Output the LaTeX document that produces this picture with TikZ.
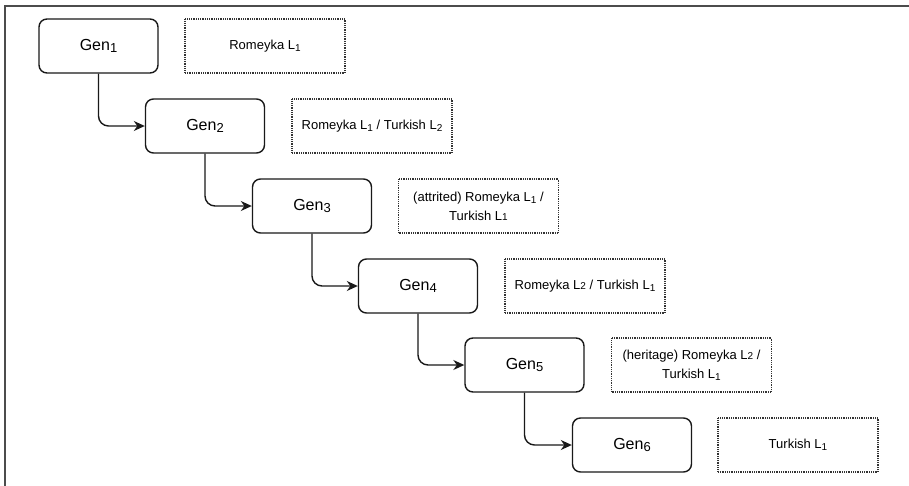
\documentclass[tikz,border=0pt]{standalone}
\usepackage{fontspec}
\setmainfont{Liberation Sans}
\usetikzlibrary{arrows.meta}
\newcommand{\lowsub}[1]{\raisebox{-0.3ex}{\fontsize{13}{13}\selectfont #1}}
\newcommand{\flatsub}[1]{{\fontsize{10}{10}\selectfont #1}}
\newcommand{\tsub}[1]{\raisebox{-0.3ex}{\fontsize{10}{10}\selectfont #1}}
\begin{document}
\begin{tikzpicture}[x=1pt,y=-1pt,
  genbox/.style={draw=black!90, line width=1.4pt, rounded corners=8pt, minimum width=119pt, minimum height=54pt, inner sep=0pt, font=\fontsize{16}{18}\selectfont, fill=white},
  langbox/.style={draw=black!80, line width=1.1pt, dash pattern=on 1pt off 0.8pt, minimum width=160pt, minimum height=54pt, inner sep=0pt, align=center, font=\fontsize{13}{19}\selectfont},
  arr/.style={draw=black!90, line width=1.4pt, rounded corners=10pt, -{Stealth[length=11pt,width=10pt]}},
  frame/.style={draw=black!70, line width=2pt}]
\useasboundingbox (0,0) rectangle (909,485);
\draw[frame] (5,486) -- (5,6) -- (910,6);
\node[genbox] (g1) at (98.5,46) {Gen\lowsub{1}};
\node[genbox] (g2) at (205,126) {Gen\lowsub{2}};
\node[genbox] (g3) at (312,206) {Gen\lowsub{3}};
\node[genbox] (g4) at (418,286) {Gen\lowsub{4}};
\node[genbox] (g5) at (524.5,365) {Gen\lowsub{5}};
\node[genbox] (g6) at (632,445) {Gen\lowsub{6}};
\node[langbox] (l1) at (265,46) {Romeyka L\tsub{1}};
\node[langbox] (l2) at (372,126) {Romeyka L\tsub{1} / Turkish L\tsub{2}};
\node[langbox] (l3) at (478.5,206) {(attrited) Romeyka L\tsub{1} /\\Turkish L\flatsub{1}};
\node[langbox] (l4) at (585,286) {Romeyka L\flatsub{2} / Turkish L\tsub{1}};
\node[langbox] (l5) at (691.5,365) {(heritage) Romeyka L\flatsub{2} /\\Turkish L\tsub{1}};
\node[langbox] (l6) at (798,445) {Turkish L\tsub{1}};
\draw[arr] (g1.south) |- (g2.west);
\draw[arr] (g2.south) |- (g3.west);
\draw[arr] (g3.south) |- (g4.west);
\draw[arr] (g4.south) |- (g5.west);
\draw[arr] (g5.south) |- (g6.west);
\end{tikzpicture}
\end{document}
